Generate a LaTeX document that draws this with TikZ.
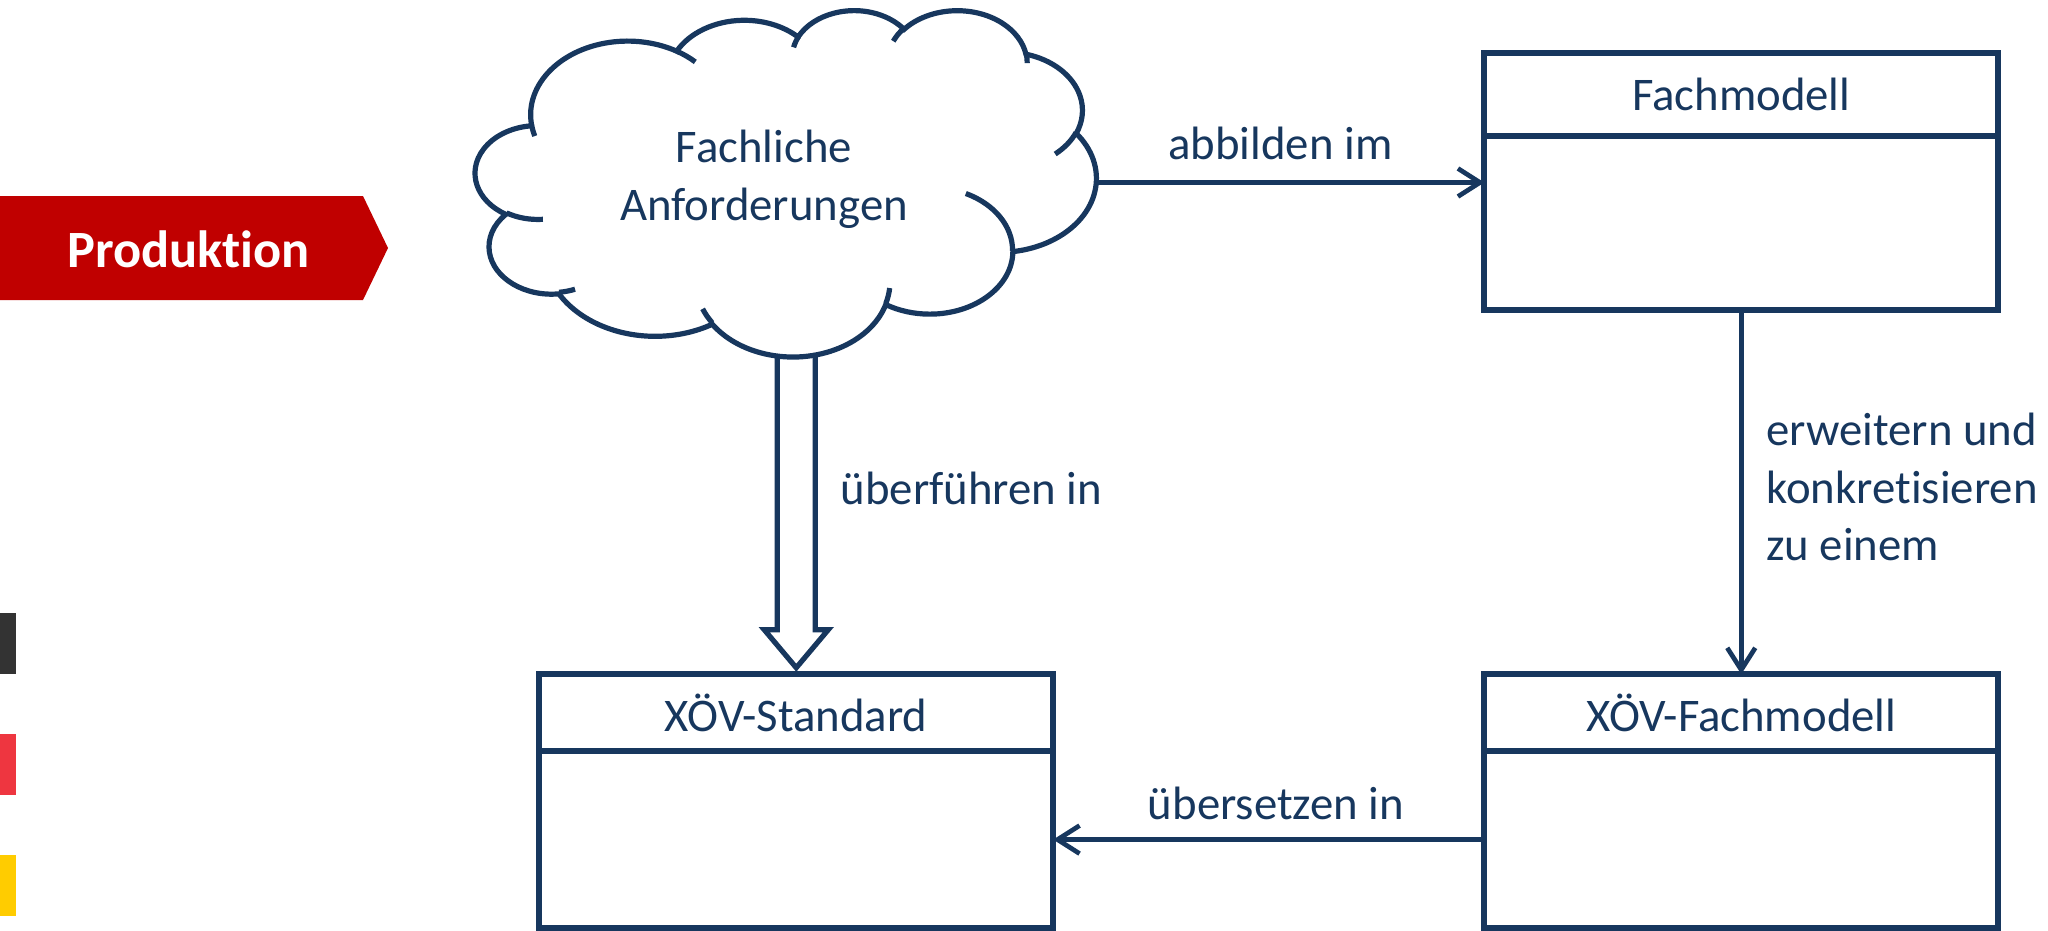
\documentclass[tikz,border=0pt]{standalone}
\usepackage{fontspec}
\setmainfont{Carlito}[Ligatures=NoCommon]
\usetikzlibrary{positioning,calc,arrows.meta}

\definecolor{navy}{HTML}{17375E}
\definecolor{bannerred}{HTML}{C00000}
\definecolor{bardark}{HTML}{333333}
\definecolor{barred}{HTML}{EE3640}
\definecolor{baryellow}{HTML}{FFCC00}

\begin{document}
\begin{tikzpicture}[x=0.01cm, y=-0.01cm,
  every node/.style={font=\fontsize{13.3}{16.4}\selectfont, text=navy},
  hdr/.style={draw=navy, line width=0.06cm, minimum width=5.135cm, inner sep=0, outer sep=0},
  body/.style={draw=navy, line width=0.06cm, minimum width=5.135cm, inner sep=0, outer sep=0},
  lbl/.style={inner sep=0},
  arr/.style={draw=navy, line width=0.047cm, ->, >={Straight Barb[length=0.22cm, width=0.28cm]}},
  hollow/.style={draw=navy, line width=0.052cm, line join=miter},
  cloudline/.style={draw=navy, line width=0.052cm}]

\useasboundingbox (0,0) rectangle (2048,930);

%banner
\fill[bannerred] (0,196) -- (363,196) -- (388,248) -- (363,300) -- (0,300) -- cycle;
\draw (188.5,267) node[anchor=base, inner sep=0, text=white, font=\fontsize{14.9}{18}\selectfont\bfseries] (prod) {Produktion};

%colour bars
\fill[bardark] (0,613) rectangle (16,674);
\fill[barred] (0,734) rectangle (16,795);
\fill[baryellow] (0,855) rectangle (16,916);

%cloud
\node[minimum width=6.2cm, minimum height=3.46cm, inner sep=0, outer sep=0] (anf) at (785.5,182.5) {};
\begin{scope}[shift={(475.5,9.5)}, x=0.014352cm, y=-0.0080093cm]
\draw[cloudline] (39.00,143.70)
  arc[start angle=-187.75, end angle=-59.63, x radius=67.53, y radius=91.90]
  arc[start angle=-152.02, end angle=-45.46, x radius=53.33, y radius=72.67]
  arc[start angle=-153.49, end angle=-37.35, x radius=43.65, y radius=59.45]
  arc[start angle=-139.71, end angle=-10.21, x radius=48.57, y radius=65.95]
  arc[start angle=-74.77, end angle=23.21, x radius=53.33, y radius=72.73]
  arc[start angle=-37.54, end angle=81.86, x radius=67.75, y radius=92.20]
  arc[start angle=0.46, end angle=121.97, x radius=57.85, y radius=78.67]
  arc[start angle=16.84, end angle=146.22, x radius=67.52, y radius=92.15]
  arc[start angle=58.98, end angle=150.17, x radius=77.20, y radius=105.43]
  arc[start angle=-276.69, end angle=-136.92, x radius=43.60, y radius=59.18]
  arc[start angle=-239.64, end angle=-95.89, x radius=43.45, y radius=59.45]
  -- cycle;
%inner stubs
\draw[cloudline] (46.93,261.77) arc[start angle=85.55, end angle=120.36, x radius=43.45, y radius=59.45];
\draw[cloudline] (69.28,348.99) arc[start angle=68.23, end angle=83.31, x radius=43.60, y radius=59.18];
\draw[cloudline] (164.78,390.90) arc[start angle=146.22, end angle=158.47, x radius=67.52, y radius=92.15];
\draw[cloudline] (288.27,347.51) arc[start angle=4.74, end angle=16.84, x radius=67.52, y radius=92.15];
\draw[cloudline] (341.29,229.54) arc[start angle=-64.03, end angle=0.46, x radius=57.85, y radius=78.67];
\draw[cloudline] (417.98,153.54) arc[start angle=23.21, end angle=49.65, x radius=53.33, y radius=72.73];
\draw[cloudline] (383.24,54.26) arc[start angle=-10.21, end angle=0.82, x radius=48.57, y radius=65.95];
\draw[cloudline] (290.78,39.52) arc[start angle=-156.28, end angle=-139.71, x radius=48.57, y radius=65.95];
\draw[cloudline] (221.41,47.20) arc[start angle=-167.72, end angle=-153.49, x radius=43.65, y radius=59.45];
\draw[cloudline] (140.00,51.92) arc[start angle=-59.63, end angle=-45.74, x radius=67.53, y radius=91.90];
\draw[cloudline] (41.27,157.89) arc[start angle=163.19, end angle=172.25, x radius=67.53, y radius=91.90];
\end{scope}
\node[lbl, align=center] (anftxt) at (764,179) {Fachliche\\Anforderungen};

%boxes
\node[hdr, minimum height=0.82cm] (fach) at (1741.25,94.5) {Fachmodell};
\node[body, minimum height=1.745cm, below=0pt of fach] (fachb) {};

\node[hdr, minimum height=0.77cm] (xfach) at (1741.25,712.75) {XÖV-Fachmodell};
\node[body, minimum height=1.765cm, below=0pt of xfach] (xfachb) {};

\node[hdr, minimum height=0.77cm] (xstd) at (796.25,712.75) {XÖV-Standard};
\node[body, minimum height=1.765cm, below=0pt of xstd] (xstdb) {};

%arrows
\draw[arr] (anf.east) -- (anf.east -| fachb.west)
  node[lbl, midway, anchor=base, xshift=-0.095cm, yshift=0.225cm] (abb) {abbilden im};

\draw[arr] (fachb.south) -- (xfach.north);
\draw (1765.7,487) node[lbl, anchor=west, align=left] (erw) {erweitern und\\konkretisieren\\zu einem};

\draw[arr] (xfachb.west) -- (xstdb.east)
  node[lbl, midway, anchor=base, xshift=0.0725cm, yshift=0.2cm] (ueber) {übersetzen in};

\coordinate (htop) at (xstd.north |- anf.south);
\coordinate (htip) at ($(xstd.north)+(0,-6.5)$);
\draw[hollow] ($(htop)+(-19,0)$) -- ($(htip)+(-19,-38)$) -- ($(htip)+(-32,-38)$) -- (htip)
  -- ($(htip)+(32,-38)$) -- ($(htip)+(19,-38)$) -- ($(htop)+(19,0)$);
\draw (840,504) node[lbl, anchor=base west] (ueb) {überführen in};

\end{tikzpicture}
\end{document}
